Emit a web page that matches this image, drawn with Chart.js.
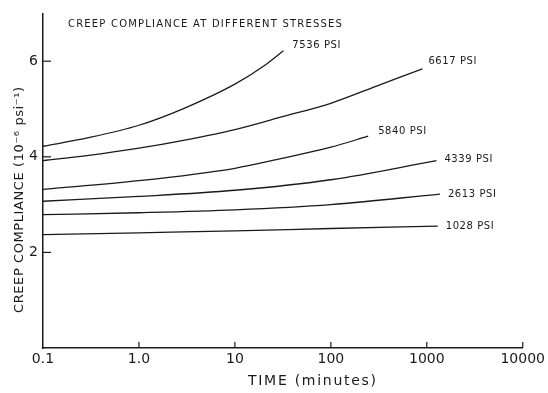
<!DOCTYPE html>
<html>
<head>
<meta charset="utf-8">
<script src="https://cdn.jsdelivr.net/npm/chart.js@4.4.0/dist/chart.umd.min.js"></script>
<style>
  html, body { margin: 0; padding: 0; background: #fff; }
  #wrap { width: 548px; height: 393px; }
</style>
</head>
<body>
<div id="wrap"><canvas id="chart-creep"></canvas></div>
<script>
// Data (time in minutes, compliance in 1e-6 / psi)
const stressLabels = ['7536 PSI', '6617 PSI', '5840 PSI', '4339 PSI', '2613 PSI', '1028 PSI'];

const time7536 = [0.1, 0.3, 1, 3, 10, 20, 32];
const comp7536 = [4.22, 4.4, 4.66, 5.02, 5.52, 5.9, 6.22];

const time6617 = [0.1, 0.3, 1, 3, 10, 30, 100, 300, 900];
const comp6617 = [3.92, 4.03, 4.18, 4.35, 4.57, 4.83, 5.12, 5.48, 5.84];

const time5840 = [0.1, 1, 10, 30, 100, 245];
const comp5840 = [3.32, 3.5, 3.76, 3.96, 4.2, 4.43];

const time4339 = [0.1, 1, 10, 100, 1260];
const comp4339 = [3.07, 3.17, 3.3, 3.52, 3.92];

const time2613 = [0.1, 1, 10, 100, 1370];
const comp2613 = [2.79, 2.83, 2.89, 3.0, 3.22];

const time1028 = [0.1, 1, 10, 100, 1300];
const comp1028 = [2.37, 2.41, 2.45, 2.5, 2.55];

const xTickValues = [0.1, 1, 10, 100, 1000, 10000];
const xTickLabels = ['0.1', '1.0', '10', '100', '1000', '10000'];
const yTickValues = [2, 4, 6];

const titleText = 'CREEP COMPLIANCE AT DIFFERENT STRESSES';
const yTitleText = 'CREEP COMPLIANCE (10\u207B\u2076 psi\u207B\u00B9)';
const xTitleText = 'TIME (minutes)';

// where each stress label sits relative to the end of its curve
const labelDx = [9, 6, 10, 8, 8, 8];
const labelDy = [-5, -7, -5, -1, 0, 0];

const ink = '#1a1a1a';
const fontFamily = '"DejaVu Sans", "Liberation Sans", sans-serif';

function toPoints(times, comps) {
  return times.map((t, i) => ({ x: t, y: comps[i] }));
}

const seriesTimes = [time7536, time6617, time5840, time4339, time2613, time1028];
const seriesComps = [comp7536, comp6617, comp5840, comp4339, comp2613, comp1028];

// draw text stretched to a given width with letter spacing
function spacedText(ctx, text, x, y, targetWidth) {
  ctx.letterSpacing = '0px';
  const w = ctx.measureText(text).width;
  const sp = Math.max(0, (targetWidth - w) / (text.length - 1));
  ctx.letterSpacing = sp.toFixed(2) + 'px';
  ctx.fillText(text, x, y);
  ctx.letterSpacing = '0px';
}

// inward tick marks, end labels and the texts inside the frame
const annotate = {
  id: 'annotate',
  afterDraw(chart) {
    const { ctx, chartArea, scales: { x, y } } = chart;
    ctx.save();
    ctx.strokeStyle = ink;
    ctx.fillStyle = ink;
    ctx.lineWidth = 1.2;

    yTickValues.forEach(v => {
      const py = y.getPixelForValue(v);
      ctx.beginPath();
      ctx.moveTo(chartArea.left, py);
      ctx.lineTo(chartArea.left + 8, py);
      ctx.stroke();
    });
    xTickValues.slice(1).forEach(v => {
      const px = x.getPixelForValue(v);
      ctx.beginPath();
      ctx.moveTo(px, chartArea.bottom);
      ctx.lineTo(px, chartArea.bottom - 6);
      ctx.stroke();
    });

    // stress labels at the end of each curve
    ctx.font = '10px ' + fontFamily;
    ctx.textBaseline = 'middle';
    ctx.textAlign = 'left';
    chart.data.datasets.forEach((ds, i) => {
      const meta = chart.getDatasetMeta(i);
      const last = meta.data[meta.data.length - 1];
      spacedText(ctx, ds.label, last.x + labelDx[i], last.y + labelDy[i], 48);
    });

    // title inside the plot
    ctx.font = '10px ' + fontFamily;
    spacedText(ctx, titleText, 68, 24, 274);

    // x axis title
    ctx.font = '14px ' + fontFamily;
    spacedText(ctx, xTitleText, 248, 381, 128);

    // y axis title
    ctx.translate(20, 200);
    ctx.rotate(-Math.PI / 2);
    ctx.font = '13px ' + fontFamily;
    spacedText(ctx, yTitleText, -113, 0, 226);
    ctx.restore();
  }
};

const ctx = document.getElementById('chart-creep');
new Chart(ctx, {
  type: 'line',
  plugins: [annotate],
  data: {
    datasets: stressLabels.map((label, i) => ({
      label: label,
      data: toPoints(seriesTimes[i], seriesComps[i]),
      borderColor: ink,
      borderWidth: 1.3,
      pointRadius: 0,
      fill: false,
      cubicInterpolationMode: 'monotone'
    }))
  },
  options: {
    responsive: true,
    maintainAspectRatio: false,
    animation: false,
    layout: { padding: { top: 7, right: 25, left: 0, bottom: 0 } },
    plugins: {
      legend: { display: false },
      tooltip: { enabled: false },
      title: { display: false }
    },
    scales: {
      x: {
        type: 'logarithmic',
        min: 0.1,
        max: 10000,
        afterBuildTicks: (scale) => {
          scale.ticks = xTickValues.map(v => ({ value: v }));
        },
        afterFit: (scale) => { scale.height = 45; },
        ticks: {
          color: ink,
          padding: 3,
          maxRotation: 0,
          autoSkip: false,
          font: { family: fontFamily, size: 14 },
          callback: (value, index) => xTickLabels[index]
        },
        grid: { display: false, drawTicks: false },
        border: { display: true, color: ink, width: 1.5 }
      },
      y: {
        type: 'linear',
        min: 0,
        max: 7,
        afterBuildTicks: (scale) => {
          scale.ticks = yTickValues.map(v => ({ value: v }));
        },
        afterFit: (scale) => { scale.width = 43; },
        ticks: {
          color: ink,
          padding: 5,
          font: { family: fontFamily, size: 14 }
        },
        grid: { display: false, drawTicks: false },
        border: { display: true, color: ink, width: 1.5 }
      }
    }
  }
});
</script>
</body>
</html>
